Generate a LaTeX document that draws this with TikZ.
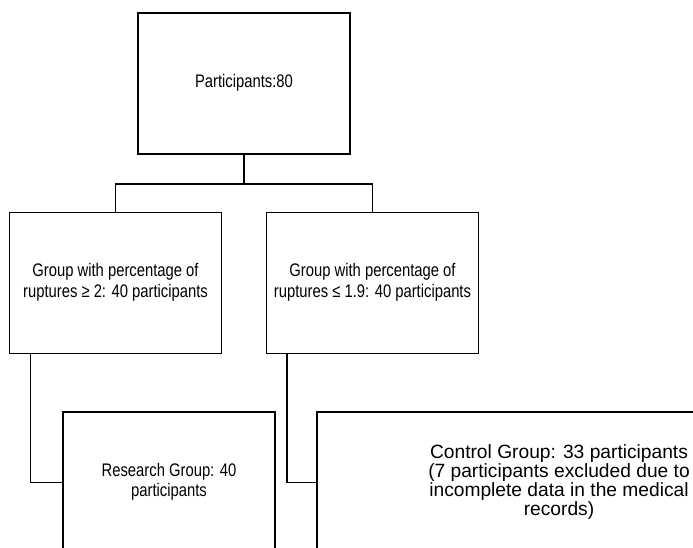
\documentclass[tikz,border=0pt]{standalone}
\usepackage{fontspec}
\usepackage{graphicx}
\setmainfont{Liberation Sans}
\usetikzlibrary{positioning}
% taller glyphs, as in the reference
\newcommand{\tallrows}[1]{\scalebox{1}[1.23]{\begin{tabular}{@{}c@{}}#1\end{tabular}}}
\tikzset{
  % --- nodes
  box/.style  = {draw=black, line width=1.8bp, fill=white, align=center,
                 minimum width=212bp, minimum height=141bp, inner sep=0bp,
                 font=\fontsize{14.8bp}{16.3bp}\selectfont},
  wide/.style = {box, minimum width=484bp, font=\fontsize{19.2bp}{15.8bp}\selectfont},
  % --- edges
  e/.style    = {draw=black, line width=1.8bp},
}
\begin{document}
\begin{tikzpicture}[x=1bp,y=-1bp]
  \useasboundingbox (0,0) rectangle (693,548);
  \node[box]  (top) at (244,83.5)  {\tallrows{Participants:80}};
  \node[box]  (gA)  at (115.5,283) {\tallrows{Group with percentage of\\ruptures ≥ 2: 40 participants}};
  \node[box]  (gB)  at (372.5,283) {\tallrows{Group with percentage of\\ruptures ≤ 1.9: 40 participants}};
  \node[box]  (rg)  at (169,482.5) {\tallrows{Research Group: 40\\participants}};
  \node[wide, text depth=5bp] (cg) at (559,482.5)
    {Control Group: 33 participants\\(7 participants excluded due to\\incomplete data in the medical\\records)};
  \draw[e] (top.south) -- ++(0,29) -| (gA.north);
  \draw[e] (top.south) -- ++(0,29) -| (gB.north);
  \draw[e] ([xshift=22bp]gA.south west) |- (rg.west);
  \draw[e] ([xshift=21bp]gB.south west) |- (cg.west);
\end{tikzpicture}
\end{document}
